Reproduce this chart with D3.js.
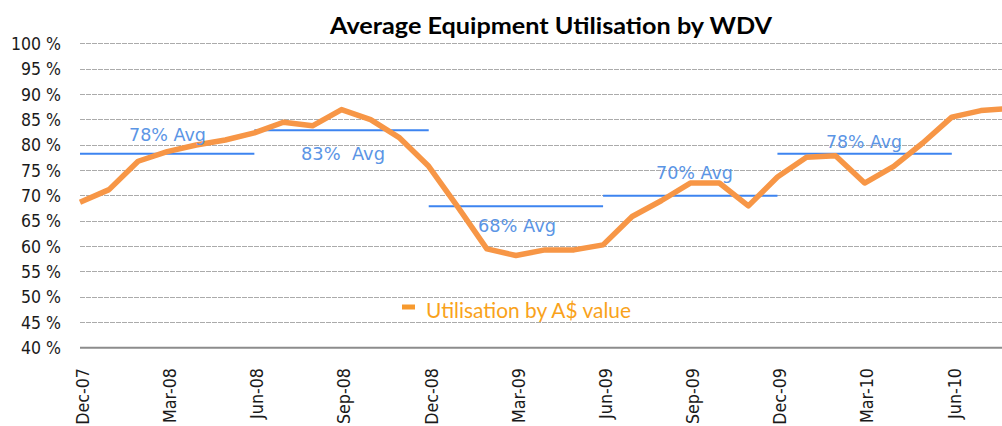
<!DOCTYPE html>
<html><head><meta charset="utf-8">
<script src="https://cdn.jsdelivr.net/npm/d3@7"></script>
<style>
html,body{margin:0;padding:0;background:#fff;overflow:hidden}
svg{display:block}
</style></head><body>
<script>
const months = ["Dec-07","Jan-08","Feb-08","Mar-08","Apr-08","May-08","Jun-08","Jul-08","Aug-08","Sep-08","Oct-08","Nov-08",
"Dec-08","Jan-09","Feb-09","Mar-09","Apr-09","May-09","Jun-09","Jul-09","Aug-09","Sep-09","Oct-09","Nov-09",
"Dec-09","Jan-10","Feb-10","Mar-10","Apr-10","May-10","Jun-10","Jul-10","Aug-10"];
const utilisation = [68.7,71.2,76.8,78.7,80.0,81.0,82.4,84.5,83.8,87.0,85.0,81.4,
75.8,67.8,59.5,58.2,59.3,59.3,60.3,65.9,69.0,72.5,72.5,68.0,
73.7,77.6,77.9,72.5,75.8,80.4,85.5,86.8,87.2];
const avgStart = ["Dec-07","Jun-08","Dec-08","Jun-09","Dec-09"];
const avgEnd   = ["Jun-08","Dec-08","Jun-09","Dec-09","Jun-10"];
const avgValues = [78.3,82.9,67.9,70.0,78.3];
const avgLabels = ["78% Avg","83%  Avg","68% Avg","70% Avg","78% Avg"];
const yTicks = [40,45,50,55,60,65,70,75,80,85,90,95,100];
const xTickLabels = ["Dec-07","Mar-08","Jun-08","Sep-08","Dec-08","Mar-09","Jun-09","Sep-09","Dec-09","Mar-10","Jun-10"];
const title = "Average Equipment Utilisation by WDV";
const legendLabel = "Utilisation by A$ value";

const W = 1002, H = 426;
const svg = d3.select("body").append("svg").attr("width", W).attr("height", H);

const x = d3.scalePoint().domain(months).range([80, 80 + 32 * 29.06]);
const y = d3.scaleLinear().domain([40, 100]).range([347.7, 43.7]);

// condense text: bigger glyph height, same advance
function condense(sel, factor) {
  sel.each(function() {
    const len = this.getComputedTextLength();
    d3.select(this).attr("textLength", len * factor).attr("lengthAdjust", "spacingAndGlyphs");
  });
}

// gridlines
svg.append("g").selectAll("line").data(yTicks.filter(d => d > 40)).join("line")
  .attr("x1", 80).attr("x2", W).attr("y1", d => y(d)).attr("y2", d => y(d))
  .attr("stroke", "#ababab").attr("stroke-width", 1).attr("stroke-dasharray", "4.5,1.5")
  .attr("shape-rendering", "crispEdges");

// baseline axis
svg.append("line").attr("x1", 80).attr("x2", W).attr("y1", y(40)).attr("y2", y(40))
  .attr("stroke", "#8c8c8c").attr("stroke-width", 2);

// y labels
svg.append("g").selectAll("text").data(yTicks).join("text")
  .attr("x", 61).attr("y", d => y(d)).attr("dy", "0.36em")
  .attr("text-anchor", "end")
  .attr("font-family", "DejaVu Sans").attr("font-size", 17.5).attr("fill", "#1a1a1a")
  .text(d => d + " %")
  .call(condense, 0.9);

// x labels
svg.append("g").selectAll("text").data(xTickLabels).join("text")
  .attr("transform", d => `translate(${x(d) + 2.5},368) rotate(-90)`)
  .attr("dy", "0.36em").attr("text-anchor", "end")
  .attr("font-family", "DejaVu Sans").attr("font-size", 17.5).attr("fill", "#1a1a1a")
  .text(d => d)
  .call(condense, 0.91);

// avg lines
const avgData = avgValues.map((v, i) => ({v, s: avgStart[i], e: avgEnd[i], label: avgLabels[i]}));
svg.append("g").selectAll("line").data(avgData).join("line")
  .attr("x1", d => x(d.s)).attr("x2", d => x(d.e))
  .attr("y1", d => y(d.v)).attr("y2", d => y(d.v))
  .attr("stroke", "#3d84f0").attr("stroke-width", 2);

// main line
const line = d3.line().x((d, i) => x(months[i])).y(d => y(d));
svg.append("path").datum(utilisation)
  .attr("d", line).attr("fill", "none")
  .attr("stroke", "#f79646").attr("stroke-width", 5.5)
  .attr("stroke-linejoin", "round");

// avg labels
const labelPos = [
  {x: 129, y: 140.5, w: 77},
  {x: 301, y: 160, w: 84},
  {x: 478, y: 231.5, w: 78},
  {x: 656, y: 179.3, w: 77},
  {x: 826, y: 147.7, w: 76}
];
svg.append("g").selectAll("text").data(avgData).join("text")
  .attr("x", (d, i) => labelPos[i].x).attr("y", (d, i) => labelPos[i].y)
  .attr("textLength", (d, i) => labelPos[i].w).attr("lengthAdjust", "spacingAndGlyphs")
  .style("white-space", "pre")
  .attr("font-family", "DejaVu Sans").attr("font-size", 18).attr("fill", "#5b95e5")
  .text(d => d.label);

// title
svg.append("text").attr("x", 551).attr("y", 34).attr("text-anchor", "middle")
  .attr("textLength", 442).attr("lengthAdjust", "spacingAndGlyphs")
  .attr("font-family", "Lato").attr("font-weight", "bold").attr("font-size", 23).attr("fill", "#000")
  .text(title);

// legend
svg.append("line").attr("x1", 402).attr("x2", 415).attr("y1", 307).attr("y2", 307)
  .attr("stroke", "#f79a2e").attr("stroke-width", 5);
svg.append("text").attr("x", 426).attr("y", 318.3)
  .attr("textLength", 205).attr("lengthAdjust", "spacingAndGlyphs")
  .attr("font-family", "Lato").attr("font-size", 21).attr("fill", "#f9a21b")
  .text(legendLabel);
</script>
</body></html>
